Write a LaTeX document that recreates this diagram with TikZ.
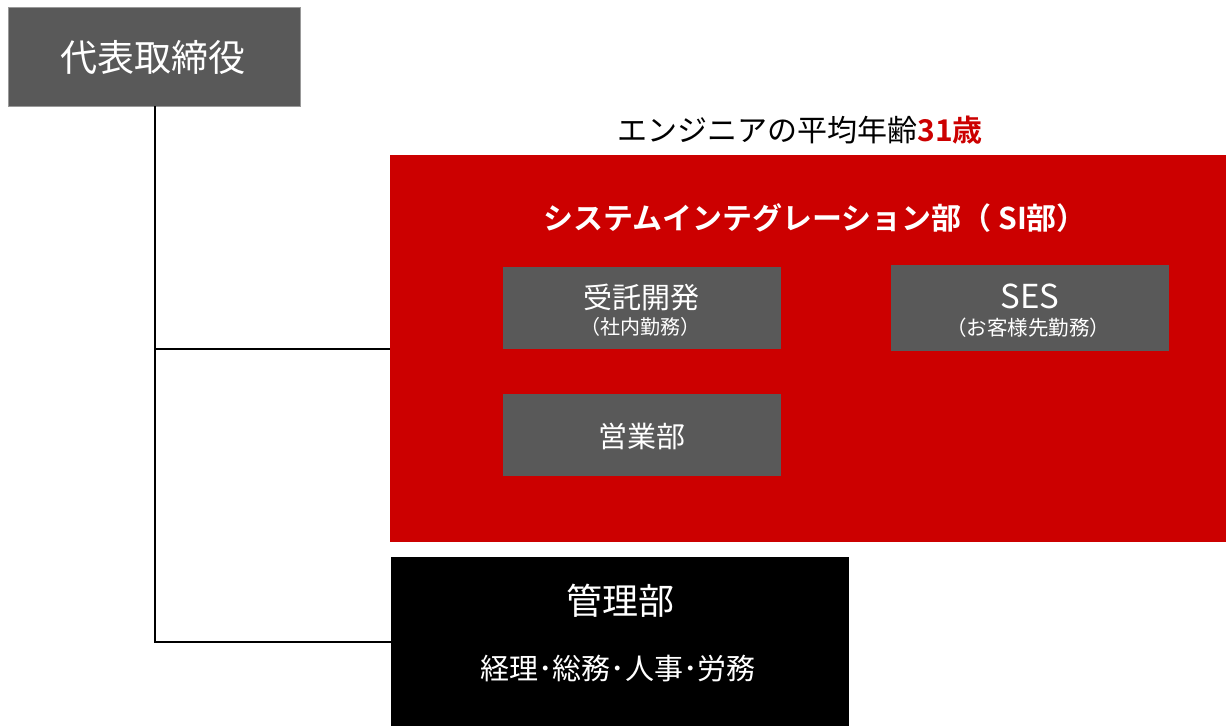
\documentclass[tikz,border=0pt]{standalone}
\usepackage{fontspec}
\setmainfont{Noto Sans CJK JP}
\newfontfamily\jpbold{Noto Sans CJK JP Bold}
\definecolor{boxgray}{HTML}{595959}
\definecolor{sired}{HTML}{CC0000}
\begin{document}
\begin{tikzpicture}[x=1pt,y=-1pt,
  graybox/.style={fill=boxgray},
  wt/.style={text=white,inner sep=0pt},
  conn/.style={draw=black,line width=1.2pt}]
\useasboundingbox (0,0) rectangle (1226,726);
% boxes
\path[graybox,draw=gray!80!white,line width=0.8pt] (8,7) rectangle (300,106);
\node[wt,font=\fontsize{37}{44}\selectfont] (ceo) at (153,57) {代表取締役};
\coordinate (ceob) at (155,106);
\fill[sired] (390,155) rectangle (1226,542);
\coordinate (sil) at (390,349);
\fill[black] (391,557) rectangle (849,726);
\coordinate (kanl) at (391,642);
\coordinate (j1) at (155,349);
\coordinate (j2) at (155,642);
\draw[conn] (ceob) -- (j2) -- (kanl);
\draw[conn] (j1) -- (sil);
% headline
\node[inner sep=0pt,font=\fontsize{30}{36}\selectfont] (avg) at (800,130) {エンジニアの平均年齢{\jpbold\color{sired}31歳}};
\node[wt,font=\jpbold\fontsize{30}{36}\selectfont] (si) at (815,218) {システムインテグレーション部（ SI部）};
% sub boxes
\path[graybox] (503,267) rectangle (781,349);
\node[wt,font=\fontsize{29}{34}\selectfont] (jt) at (641,297) {受託開発};
\node[wt,font=\fontsize{20}{24}\selectfont] (jt2) at (640,327) {（社内勤務）};
\path[graybox] (891,265) rectangle (1169,351);
\node[wt,font=\fontsize{33}{40}\selectfont] (ses) at (1030,296) {SES};
\node[wt,font=\fontsize{20.5}{24}\selectfont] (ses2) at (1028,328) {（お客様先勤務）};
\path[graybox] (503,394) rectangle (781,476);
\node[wt,font=\fontsize{29}{34}\selectfont] (eig) at (642,436) {営業部};
% kanri
\node[wt,font=\fontsize{36}{42}\selectfont] (kan) at (620,601) {管理部};
\node[wt,font=\fontsize{29}{34}\selectfont] (kan2) at (618,668) {経理･総務･人事･労務};
\end{tikzpicture}
\end{document}
